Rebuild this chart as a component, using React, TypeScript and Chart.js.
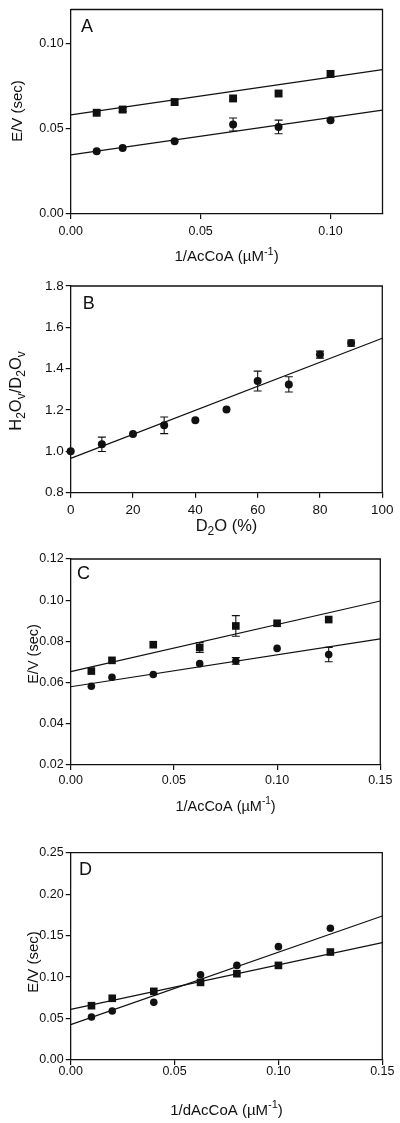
import React, { useEffect, useRef } from 'react';
import { Chart, registerables } from 'chart.js';

Chart.register(...registerables);

// ---------- Panel A ----------
const aX = [0.01, 0.02, 0.04, 0.0625, 0.08, 0.1];
const aSquares = [0.0594, 0.0613, 0.0657, 0.0678, 0.0707, 0.0822];
const aSquareErr = [0, 0.0012, 0, 0, 0, 0];
const aCircles = [0.0368, 0.0387, 0.0427, 0.0525, 0.0511, 0.055];
const aCircleErr = [0, 0, 0, 0.0038, 0.004, 0];
const aFitX = [0, 0.12];
const aFitSquares = [0.0582, 0.0847];
const aFitCircles = [0.0347, 0.0609];
const aXTicks = [0, 0.05, 0.1];
const aYTicks = [0, 0.05, 0.1];

// ---------- Panel B ----------
const bX = [0, 10, 20, 30, 40, 50, 60, 70, 80, 90];
const bCircles = [1.0, 1.034, 1.084, 1.126, 1.15, 1.203, 1.34, 1.324, 1.468, 1.524];
const bCircleErr = [0, 0.035, 0, 0.04, 0, 0, 0.048, 0.037, 0.017, 0.015];
const bFitX = [0, 100];
const bFit = [0.966, 1.547];
const bXTicks = [0, 20, 40, 60, 80, 100];
const bYTicks = [0.8, 1.0, 1.2, 1.4, 1.6, 1.8];

// ---------- Panel C ----------
const cX = [0.01, 0.02, 0.04, 0.0625, 0.08, 0.1, 0.125];
const cSquares = [0.0656, 0.0708, 0.0784, 0.077, 0.0875, 0.0888, 0.0906];
const cSquareErr = [0, 0, 0, 0.0024, 0.005, 0, 0];
const cCircles = [0.0582, 0.0626, 0.0639, 0.0692, 0.0705, 0.0766, 0.0736];
const cCircleErr = [0, 0, 0, 0, 0.0016, 0, 0.0035];
const cFitX = [0, 0.15];
const cFitSquares = [0.0653, 0.0996];
const cFitCircles = [0.058, 0.0812];
const cXTicks = [0, 0.05, 0.1, 0.15];
const cYTicks = [0.02, 0.04, 0.06, 0.08, 0.1, 0.12];

// ---------- Panel D ----------
const dX = [0.01, 0.02, 0.04, 0.0625, 0.08, 0.1, 0.125];
const dSquares = [0.0655, 0.0744, 0.0828, 0.0936, 0.1041, 0.1141, 0.1302];
const dCircles = [0.0518, 0.0591, 0.0695, 0.1029, 0.1141, 0.1367, 0.1588];
const dFitX = [0, 0.15];
const dFitSquares = [0.0611, 0.1415];
const dFitCircles = [0.0426, 0.1736];
const dXTicks = [0, 0.05, 0.1, 0.15];
const dYTicks = [0, 0.05, 0.1, 0.15, 0.2, 0.25];

const FONT = '"Liberation Sans", Arial, Helvetica, sans-serif';
const INK = '#111111';

type Seg = { t: string; s?: 'sub' | 'sup' };

function drawRich(ctx: CanvasRenderingContext2D, segs: Seg[], cx: number, cy: number, size: number, rotate: boolean) {
  ctx.save();
  ctx.translate(cx, cy);
  if (rotate) ctx.rotate(-Math.PI / 2);
  const main = `${size}px ${FONT}`;
  const small = `${Math.round(size * 0.7)}px ${FONT}`;
  let total = 0;
  const widths = segs.map((sg) => {
    ctx.font = sg.s ? small : main;
    const w = ctx.measureText(sg.t).width;
    total += w;
    return w;
  });
  let x = -total / 2;
  ctx.fillStyle = INK;
  ctx.textBaseline = 'middle';
  ctx.textAlign = 'left';
  segs.forEach((sg, i) => {
    ctx.font = sg.s ? small : main;
    const dy = sg.s === 'sub' ? size * 0.32 : sg.s === 'sup' ? -size * 0.36 : 0;
    ctx.fillText(sg.t, x, dy);
    x += widths[i];
  });
  ctx.restore();
}

type ErrSpec = { xs: number[]; ys: number[]; errs: number[] };
type Series = { xs: number[]; ys: number[]; style: 'circle' | 'rect' };
type Fit = { xs: number[]; ys: number[] };

type PanelCfg = {
  top: number;
  h: number;
  area: { left: number; right: number; top: number; bottom: number };
  xMin: number; xMax: number; yMin: number; yMax: number;
  xTicks: number[]; yTicks: number[];
  xDec: number; yDec: number;
  xPad: number;
  series: Series[];
  fits: Fit[];
  errs: ErrSpec[];
  letter: { t: string; x: number; y: number };
  xTitle: { segs: Seg[]; y: number; size: number };
  yTitle: { segs: Seg[]; x: number; y: number; size: number };
  tickSize: number;
  circleR: number;
  rectR: number;
};

function buildChart(canvas: HTMLCanvasElement, cfg: PanelCfg) {
  const datasets: any[] = [];
  cfg.fits.forEach((f) => {
    datasets.push({
      data: f.xs.map((x, i) => ({ x, y: f.ys[i] })),
      showLine: true,
      pointRadius: 0,
      borderColor: INK,
      borderWidth: 1.2,
      fill: false,
      clip: false,
    });
  });
  cfg.series.forEach((s) => {
    datasets.push({
      data: s.xs.map((x, i) => ({ x, y: s.ys[i] })),
      showLine: false,
      pointStyle: s.style,
      pointRadius: s.style === 'rect' ? cfg.rectR : cfg.circleR,
      pointBackgroundColor: INK,
      pointBorderColor: INK,
      pointBorderWidth: 0,
      clip: false,
    });
  });

  const framePlugin = {
    id: 'frameAndText',
    afterDatasetsDraw(chart: any) {
      const ctx: CanvasRenderingContext2D = chart.ctx;
      const xs = chart.scales.x;
      const ys = chart.scales.y;
      ctx.save();
      ctx.strokeStyle = INK;
      ctx.lineWidth = 1.1;
      cfg.errs.forEach((e) => {
        e.xs.forEach((xv, i) => {
          const err = e.errs[i];
          if (!err) return;
          const px = xs.getPixelForValue(xv);
          const y1 = ys.getPixelForValue(e.ys[i] + err);
          const y2 = ys.getPixelForValue(e.ys[i] - err);
          ctx.beginPath();
          ctx.moveTo(px, y1); ctx.lineTo(px, y2);
          ctx.moveTo(px - 4, y1); ctx.lineTo(px + 4, y1);
          ctx.moveTo(px - 4, y2); ctx.lineTo(px + 4, y2);
          ctx.stroke();
        });
      });
      ctx.restore();
    },
    afterDraw(chart: any) {
      const ctx: CanvasRenderingContext2D = chart.ctx;
      const a = chart.chartArea;
      ctx.save();
      ctx.strokeStyle = INK;
      ctx.lineWidth = 1.3;
      ctx.beginPath();
      ctx.moveTo(a.left, a.top);
      ctx.lineTo(a.right, a.top);
      ctx.lineTo(a.right, a.bottom);
      ctx.stroke();
      ctx.fillStyle = INK;
      ctx.font = `18px ${FONT}`;
      ctx.textBaseline = 'alphabetic';
      ctx.textAlign = 'left';
      ctx.fillText(cfg.letter.t, cfg.letter.x, cfg.letter.y);
      ctx.restore();
      drawRich(ctx, cfg.xTitle.segs, (a.left + a.right) / 2, cfg.xTitle.y, cfg.xTitle.size, false);
      drawRich(ctx, cfg.yTitle.segs, cfg.yTitle.x, cfg.yTitle.y, cfg.yTitle.size, true);
    },
  };

  const tickFont = { family: FONT, size: cfg.tickSize };
  return new Chart(canvas, {
    type: 'scatter',
    data: { datasets },
    options: {
      responsive: false,
      animation: false,
      devicePixelRatio: 1,
      layout: {
        padding: { top: cfg.area.top, right: 400 - cfg.area.right, left: 0, bottom: 0 },
      },
      plugins: { legend: { display: false }, tooltip: { enabled: false } },
      scales: {
        x: {
          type: 'linear',
          min: cfg.xMin,
          max: cfg.xMax,
          afterBuildTicks: (s: any) => { s.ticks = cfg.xTicks.map((v) => ({ value: v })); },
          afterFit: (s: any) => { s.height = cfg.h - cfg.area.bottom; },
          ticks: {
            color: INK,
            font: tickFont,
            padding: cfg.xPad,
            maxRotation: 0,
            autoSkip: false,
            callback: (v: any) => Number(v).toFixed(cfg.xDec),
          },
          grid: { drawOnChartArea: false, drawTicks: true, tickLength: 5, color: INK, lineWidth: 1.2 },
          border: { display: true, color: INK, width: 1.3 },
        },
        y: {
          type: 'linear',
          min: cfg.yMin,
          max: cfg.yMax,
          afterBuildTicks: (s: any) => { s.ticks = cfg.yTicks.map((v) => ({ value: v })); },
          afterFit: (s: any) => { s.width = cfg.area.left; },
          ticks: {
            color: INK,
            font: tickFont,
            padding: 2,
            autoSkip: false,
            callback: (v: any) => Number(v).toFixed(cfg.yDec),
          },
          grid: { drawOnChartArea: false, drawTicks: true, tickLength: 5, color: INK, lineWidth: 1.2 },
          border: { display: true, color: INK, width: 1.3 },
        },
      },
    },
    plugins: [framePlugin],
  } as any);
}

const evTitle: Seg[] = [{ t: 'E/V (sec)' }];

const panels: PanelCfg[] = [
  {
    top: 0, h: 270,
    area: { left: 70.7, right: 382.5, top: 5.3, bottom: 214 },
    xMin: 0, xMax: 0.12, yMin: 0, yMax: 0.12,
    xTicks: aXTicks, yTicks: aYTicks, xDec: 2, yDec: 2, xPad: 5,
    series: [
      { xs: aX, ys: aSquares, style: 'rect' },
      { xs: aX, ys: aCircles, style: 'circle' },
    ],
    fits: [{ xs: aFitX, ys: aFitSquares }, { xs: aFitX, ys: aFitCircles }],
    errs: [{ xs: aX, ys: aSquares, errs: aSquareErr }, { xs: aX, ys: aCircles, errs: aCircleErr }],
    letter: { t: 'A', x: 81, y: 31.7 },
    xTitle: { segs: [{ t: '1/AcCoA (\u00B5M' }, { t: '-1', s: 'sup' }, { t: ')' }], y: 257, size: 15 },
    yTitle: { segs: evTitle, x: 17.5, y: 111, size: 15 },
    tickSize: 12.5, circleR: 4, rectR: 5.6,
  },
  {
    top: 270, h: 275,
    area: { left: 70.7, right: 382.3, top: 16, bottom: 222.7 },
    xMin: 0, xMax: 100, yMin: 0.8, yMax: 1.8,
    xTicks: bXTicks, yTicks: bYTicks, xDec: 0, yDec: 1, xPad: 4,
    series: [{ xs: bX, ys: bCircles, style: 'circle' }],
    fits: [{ xs: bFitX, ys: bFit }],
    errs: [{ xs: bX, ys: bCircles, errs: bCircleErr }],
    letter: { t: 'B', x: 82.7, y: 39.3 },
    xTitle: { segs: [{ t: 'D' }, { t: '2', s: 'sub' }, { t: 'O (%)' }], y: 256.7, size: 16.5 },
    yTitle: {
      segs: [{ t: 'H' }, { t: '2', s: 'sub' }, { t: 'O' }, { t: 'v', s: 'sub' }, { t: '/D' }, { t: '2', s: 'sub' }, { t: 'O' }, { t: 'v', s: 'sub' }],
      x: 16, y: 121, size: 16.5,
    },
    tickSize: 13.5, circleR: 4, rectR: 5.6,
  },
  {
    top: 545, h: 285,
    area: { left: 70.7, right: 380.3, top: 14, bottom: 220 },
    xMin: 0, xMax: 0.15, yMin: 0.02, yMax: 0.12,
    xTicks: cXTicks, yTicks: cYTicks, xDec: 2, yDec: 2, xPad: 3,
    series: [
      { xs: cX, ys: cSquares, style: 'rect' },
      { xs: cX, ys: cCircles, style: 'circle' },
    ],
    fits: [{ xs: cFitX, ys: cFitSquares }, { xs: cFitX, ys: cFitCircles }],
    errs: [{ xs: cX, ys: cSquares, errs: cSquareErr }, { xs: cX, ys: cCircles, errs: cCircleErr }],
    letter: { t: 'C', x: 77, y: 34 },
    xTitle: { segs: [{ t: '1/AcCoA (\u00B5M' }, { t: '-1', s: 'sup' }, { t: ')' }], y: 261.7, size: 14.5 },
    yTitle: { segs: evTitle, x: 34, y: 109, size: 14.5 },
    tickSize: 12.5, circleR: 3.8, rectR: 5.4,
  },
  {
    top: 830, h: 293,
    area: { left: 70.7, right: 382.3, top: 22.7, bottom: 230 },
    xMin: 0, xMax: 0.15, yMin: 0, yMax: 0.25,
    xTicks: dXTicks, yTicks: dYTicks, xDec: 2, yDec: 2, xPad: -1,
    series: [
      { xs: dX, ys: dSquares, style: 'rect' },
      { xs: dX, ys: dCircles, style: 'circle' },
    ],
    fits: [{ xs: dFitX, ys: dFitSquares }, { xs: dFitX, ys: dFitCircles }],
    errs: [],
    letter: { t: 'D', x: 79, y: 45 },
    xTitle: { segs: [{ t: '1/dAcCoA (\u00B5M' }, { t: '-1', s: 'sup' }, { t: ')' }], y: 280.5, size: 15 },
    yTitle: { segs: evTitle, x: 34, y: 132, size: 15 },
    tickSize: 12.5, circleR: 3.8, rectR: 5.4,
  },
];

function Panel({ cfg }: { cfg: PanelCfg }) {
  const ref = useRef<HTMLCanvasElement>(null);
  useEffect(() => {
    if (!ref.current) return;
    const chart = buildChart(ref.current, cfg);
    return () => chart.destroy();
  }, [cfg]);
  return (
    <canvas
      ref={ref}
      width={400}
      height={cfg.h}
      style={{ position: 'absolute', left: 0, top: cfg.top, width: 400, height: cfg.h, display: 'block' }}
    />
  );
}

export default function App() {
  return (
    <div style={{ position: 'absolute', left: 0, top: 0, width: 400, height: 1123, background: '#ffffff', overflow: 'hidden' }}>
      {panels.map((p, i) => (
        <Panel key={i} cfg={p} />
      ))}
    </div>
  );
}
